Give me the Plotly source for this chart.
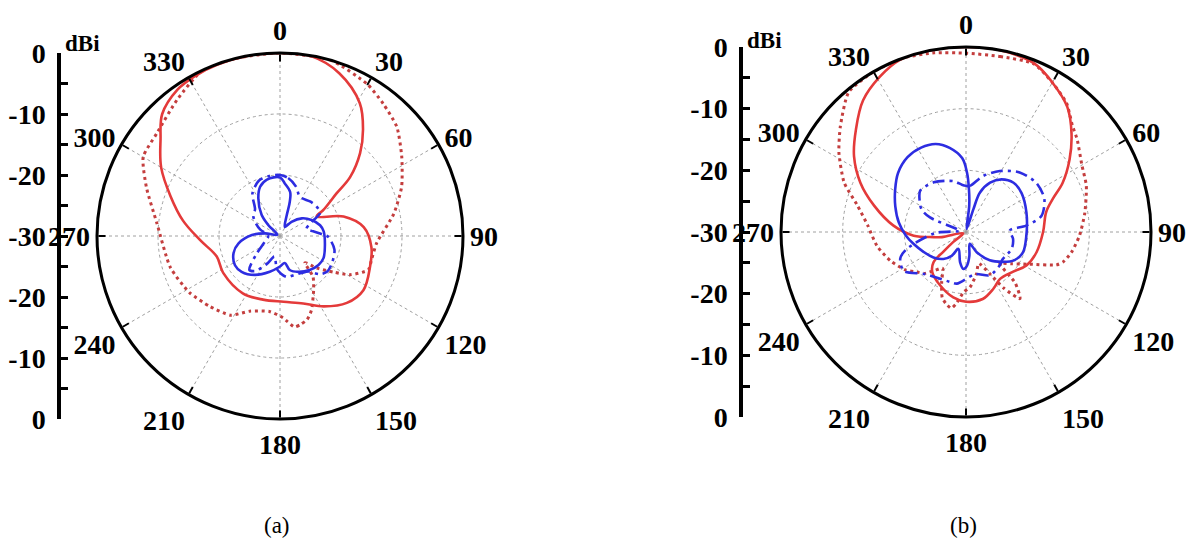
import plotly.graph_objects as go

W, H = 1195, 548

# ---------------- pattern data (angle in degrees, gain in dBi) ----------------
# (a) red solid
a_red_solid_theta = [0, 10, 20, 31, 38, 44, 50, 53, 59, 62, 73, 84, 97, 109, 123, 135, 148, 161,
                     177, 195, 213, 237, 252, 267, 279, 290, 300, 309, 316, 325, 332, 340, 350]
a_red_solid_gain = [0, -0.1, -1.6, -4.6, -7.9, -11.1, -15.0, -18.4, -21.7, -23.2, -19.1, -16.2,
                    -14.9, -14.4, -13.7, -14.5, -16.4, -18.3, -19.2, -19.2, -18.8, -18.9, -19.1,
                    -16.9, -13.9, -10.9, -7.5, -4.8, -2.2, -0.7, -0.3, -0.1, 0]

# (a) red dotted
a_red_dot_theta = [0, 16, 30, 38, 47, 57, 68, 79, 94, 104, 111, 119, 124, 131, 137, 141, 148, 157,
                   162, 167, 171, 175, 178, 188, 202, 212, 225, 238, 254, 276, 290, 300, 310, 323,
                   335, 346]
a_red_dot_gain = [0, 0, -1.3, -2.5, -3.8, -6.2, -8.5, -11.0, -14.1, -14.5, -14.5, -16.9, -19.4,
                  -22.0, -24.0, -21.4, -19.6, -16.8, -15.6, -15.1, -14.9, -15.9, -16.6, -17.5,
                  -16.7, -14.7, -13.7, -12.5, -11.3, -9.7, -6.7, -4.1, -3.7, -2.0, 0, 0]

# (a) blue solid
a_blue_solid_theta = [0, 5, 13, 16, 18, 28, 39, 51, 63, 75, 84, 101, 117, 127, 139, 153, 164, 170,
                      180, 196, 213, 227, 237, 250, 260, 272, 280, 295, 313, 319, 330, 338, 347]
a_blue_solid_gain = [-20.4, -21.3, -22.6, -24.2, -26.4, -28.3, -27.0, -25.4, -24.2, -23.2, -22.8,
                     -22.5, -22.0, -22.1, -22.6, -23.4, -24.2, -25.5, -25.0, -23.9, -22.4, -21.4,
                     -21.2, -21.9, -23.1, -25.4, -27.5, -29.5, -27.4, -25.4, -22.9, -21.3, -20.5]

# (a) blue dash-dot
a_blue_dd_theta = [0, 8, 18, 27, 41, 50, 60, 68, 75, 82, 88, 91, 104, 117, 127, 134, 141, 150, 160,
                   171, 185, 195, 205, 215, 222, 232, 245, 262, 275, 288, 298, 307, 317, 327, 339, 350]
a_blue_dd_gain = [-20.0, -20.4, -21.5, -22.8, -22.5, -22.3, -22.4, -24.8, -25.5, -24.5, -23.0,
                  -22.1, -20.8, -20.4, -20.3, -21.0, -22.5, -23.0, -23.2, -23.2, -24.5, -26.5,
                  -25.0, -23.0, -22.5, -25.0, -27.0, -28.0, -28.0, -26.6, -25.5, -24.5, -24.0,
                  -21.7, -20.3, -20.0]

# (b) red solid
b_red_solid_theta = [0, 10, 22, 30, 39, 47, 55, 63, 69, 76, 90, 106, 119, 130, 144, 154, 166, 180,
                     191, 206, 220, 227, 229, 232, 245, 258, 261, 266, 275, 286, 295, 304, 313, 322,
                     331, 339, 350]
b_red_solid_gain = [0, 0, -0.5, -2.0, -3.9, -6.6, -9.5, -12.4, -14.9, -16.6, -17.5, -18.1, -18.8,
                    -20.0, -20.6, -19.8, -18.8, -18.7, -19.2, -20.4, -21.5, -22.8, -25.1, -27.4,
                    -29.5, -26.0, -24.7, -21.5, -18.2, -14.5, -11.1, -8.1, -5.6, -2.9, -1.2, -0.1, 0]

# (b) red dotted
b_red_dot_theta = [0, 11, 22, 30, 38, 45, 50, 60, 69, 81, 92, 101, 107, 110, 117, 125, 133, 136,
                   141, 146, 150, 158, 166, 176, 182, 188, 191, 196, 200, 206, 213, 219, 225, 231,
                   238, 249, 261, 274, 284, 292, 302, 310, 320, 330, 340, 350]
b_red_dot_gain = [-1.0, -1.0, -0.6, -2.0, -3.5, -5.6, -6.5, -8.3, -9.1, -10.5, -11.6, -12.6, -13.5,
                  -14.4, -18.5, -21.0, -22.5, -18.5, -16.1, -19.0, -22.0, -24.5, -23.0, -21.0,
                  -20.3, -18.2, -17.4, -18.0, -18.7, -21.0, -23.0, -22.0, -20.5, -19.7, -18.4,
                  -16.9, -15.4, -14.0, -11.8, -8.7, -5.7, -3.4, -0.4, 0, 0, -0.5]

# (b) blue solid
b_blue_solid_theta = [1, 4, 7, 12, 18, 19.5, 26, 34, 44, 55, 72, 94, 110, 120, 129, 140, 152, 162,
                      172, 178, 184, 191, 204, 211, 220, 232, 245, 257, 267, 278, 290, 301, 311,
                      322, 332, 341, 349, 357]
b_blue_solid_gain = [-20.4, -23.1, -25.7, -29.5, -26.1, -23.2, -21.1, -19.7, -18.9, -19.0, -19.7,
                     -20.2, -20.2, -20.9, -22.3, -24.0, -26.3, -28.0, -26.1, -24.6, -24.0, -25.0,
                     -27.0, -25.5, -24.3, -23.3, -22.4, -21.3, -20.2, -19.0, -17.8, -16.6, -15.4,
                     -14.6, -14.5, -14.9, -16.1, -18.0]

# (b) blue dash-dot
b_blue_dd_theta = [0, 5, 17, 29, 42, 55, 67, 78, 84, 88, 98, 110, 127, 135, 151, 168, 190, 198,
                   224, 238, 248, 254, 268, 280, 288, 292, 297, 305, 312, 327, 346, 355]
b_blue_dd_gain = [-22.5, -22.5, -20.5, -18.7, -17.0, -16.1, -16.2, -17.5, -20.2, -22.9, -22.3,
                  -22.1, -22.6, -22.3, -22.0, -23.0, -21.5, -21.5, -20.5, -18.1, -18.5, -20.0,
                  -25.0, -29.0, -28.4, -23.7, -21.9, -20.8, -20.0, -20.4, -21.5, -22.3]

# radial scale bar: tick position measured from the centre (dB units) and printed value;
# unlabeled entries are the 5 dB intermediate ticks
bar_pos = [-30, -25, -20, -15, -10, -5, 0, 5, 10, 15, 20, 25, 30]
bar_text = ['0', '', '-10', '', '-20', '', '-30', '', '-20', '', '-10', '', '0']
angle_ticks = list(range(0, 360, 30))
angle_text = [str(a) for a in angle_ticks]

# ---------------- styles ----------------
RED = 'rgb(228,58,58)'
RED_DOT = 'rgb(196,62,62)'
BLUE = 'rgb(45,45,225)'
SERIF = 'Liberation Serif'
LABEL_FONT = dict(family=SERIF, size=28, color='black', weight='bold')


def closed(theta, r):
    return list(theta) + [theta[0] + 360], list(r) + [r[0]]


fig = go.Figure()


def add_pattern(theta, r, color, dash, width, sub, smooth=1.0):
    t, rr = closed(theta, r)
    fig.add_trace(go.Scatterpolar(
        theta=t, r=rr, mode='lines', subplot=sub,
        line=dict(color=color, dash=dash, width=width, shape='spline', smoothing=smooth),
        hoverinfo='skip', showlegend=False))


DOT = '3px,3.6px'
DASHDOT = '12px,5px,3px,5px'

add_pattern(a_red_dot_theta, a_red_dot_gain, RED_DOT, DOT, 3, 'polar', 0.6)
add_pattern(a_red_solid_theta, a_red_solid_gain, RED, 'solid', 2.6, 'polar')
add_pattern(a_blue_dd_theta, a_blue_dd_gain, BLUE, DASHDOT, 2.6, 'polar', 0.8)
add_pattern(a_blue_solid_theta, a_blue_solid_gain, BLUE, 'solid', 2.6, 'polar')

add_pattern(b_red_dot_theta, b_red_dot_gain, RED_DOT, DOT, 3, 'polar2', 0.6)
add_pattern(b_red_solid_theta, b_red_solid_gain, RED, 'solid', 2.6, 'polar2')
add_pattern(b_blue_dd_theta, b_blue_dd_gain, BLUE, DASHDOT, 2.6, 'polar2', 0.8)
add_pattern(b_blue_solid_theta, b_blue_solid_gain, BLUE, 'solid', 2.6, 'polar2')

# empty traces so the scale-bar axes are rendered
fig.add_trace(go.Scatter(x=[], y=[], xaxis='x', yaxis='y', showlegend=False))
fig.add_trace(go.Scatter(x=[], y=[], xaxis='x2', yaxis='y2', showlegend=False))


def polar_layout(cx, cy, rad):
    dom_x = [(cx - rad) / W, (cx + rad) / W]
    dom_y = [1 - (cy + rad) / H, 1 - (cy - rad) / H]
    return dict(
        domain=dict(x=dom_x, y=dom_y),
        bgcolor='rgba(0,0,0,0)',
        radialaxis=dict(range=[-30, 0], tickvals=[-20, -10], showticklabels=False,
                        ticks='', showline=False, gridcolor='rgb(160,160,160)',
                        griddash='dot', gridwidth=1),
        angularaxis=dict(direction='clockwise', rotation=90, tickmode='array',
                         tickvals=angle_ticks, ticktext=angle_text,
                         ticks='inside', ticklen=7, tickwidth=2, tickcolor='black',
                         showline=True, linecolor='black', linewidth=3,
                         gridcolor='rgb(160,160,160)', griddash='dot', gridwidth=1,
                         tickfont=LABEL_FONT),
    )


def bar_axes(x_px, cy, rad):
    xa = dict(domain=[x_px / W, (x_px + 14) / W], visible=False, range=[0, 1],
              automargin=False)
    ya = dict(domain=[1 - (cy + rad) / H, 1 - (cy - rad) / H], range=[-30, 30],
              side='left', tickmode='array', tickvals=bar_pos, ticktext=bar_text,
              ticks='inside', ticklen=7, tickwidth=2.5, tickcolor='black',
              showline=True, linecolor='black', linewidth=3.5, showgrid=False,
              zeroline=False, ticklabelstandoff=6, automargin=False,
              tickfont=LABEL_FONT)
    return xa, ya


xa1, ya1 = bar_axes(61, 236, 183)
xa2, ya2 = bar_axes(743, 232, 185)
ya1['anchor'] = 'x'
xa1['anchor'] = 'y'
ya2['anchor'] = 'x2'
xa2['anchor'] = 'y2'

fig.update_layout(
    template='none',
    width=W, height=H, margin=dict(l=0, r=0, t=0, b=0, pad=0),
    paper_bgcolor='white', plot_bgcolor='rgba(0,0,0,0)', showlegend=False,
    polar=polar_layout(280, 236, 183),
    polar2=polar_layout(966, 232, 185),
    xaxis=xa1, yaxis=ya1, xaxis2=xa2, yaxis2=ya2,
    annotations=[
        dict(text='dBi', x=63 / W, y=1 - 43 / H, xref='paper', yref='paper',
             xanchor='left', yanchor='middle', showarrow=False,
             font=dict(family=SERIF, size=23, color='black', weight='bold')),
        dict(text='dBi', x=745 / W, y=1 - 40 / H, xref='paper', yref='paper',
             xanchor='left', yanchor='middle', showarrow=False,
             font=dict(family=SERIF, size=23, color='black', weight='bold')),
        dict(text='(a)', x=277 / W, y=1 - 525 / H, xref='paper', yref='paper',
             xanchor='center', yanchor='middle', showarrow=False,
             font=dict(family=SERIF, size=23, color='black')),
        dict(text='(b)', x=963 / W, y=1 - 525 / H, xref='paper', yref='paper',
             xanchor='center', yanchor='middle', showarrow=False,
             font=dict(family=SERIF, size=23, color='black')),
    ],
)

fig.write_html('out.html')
